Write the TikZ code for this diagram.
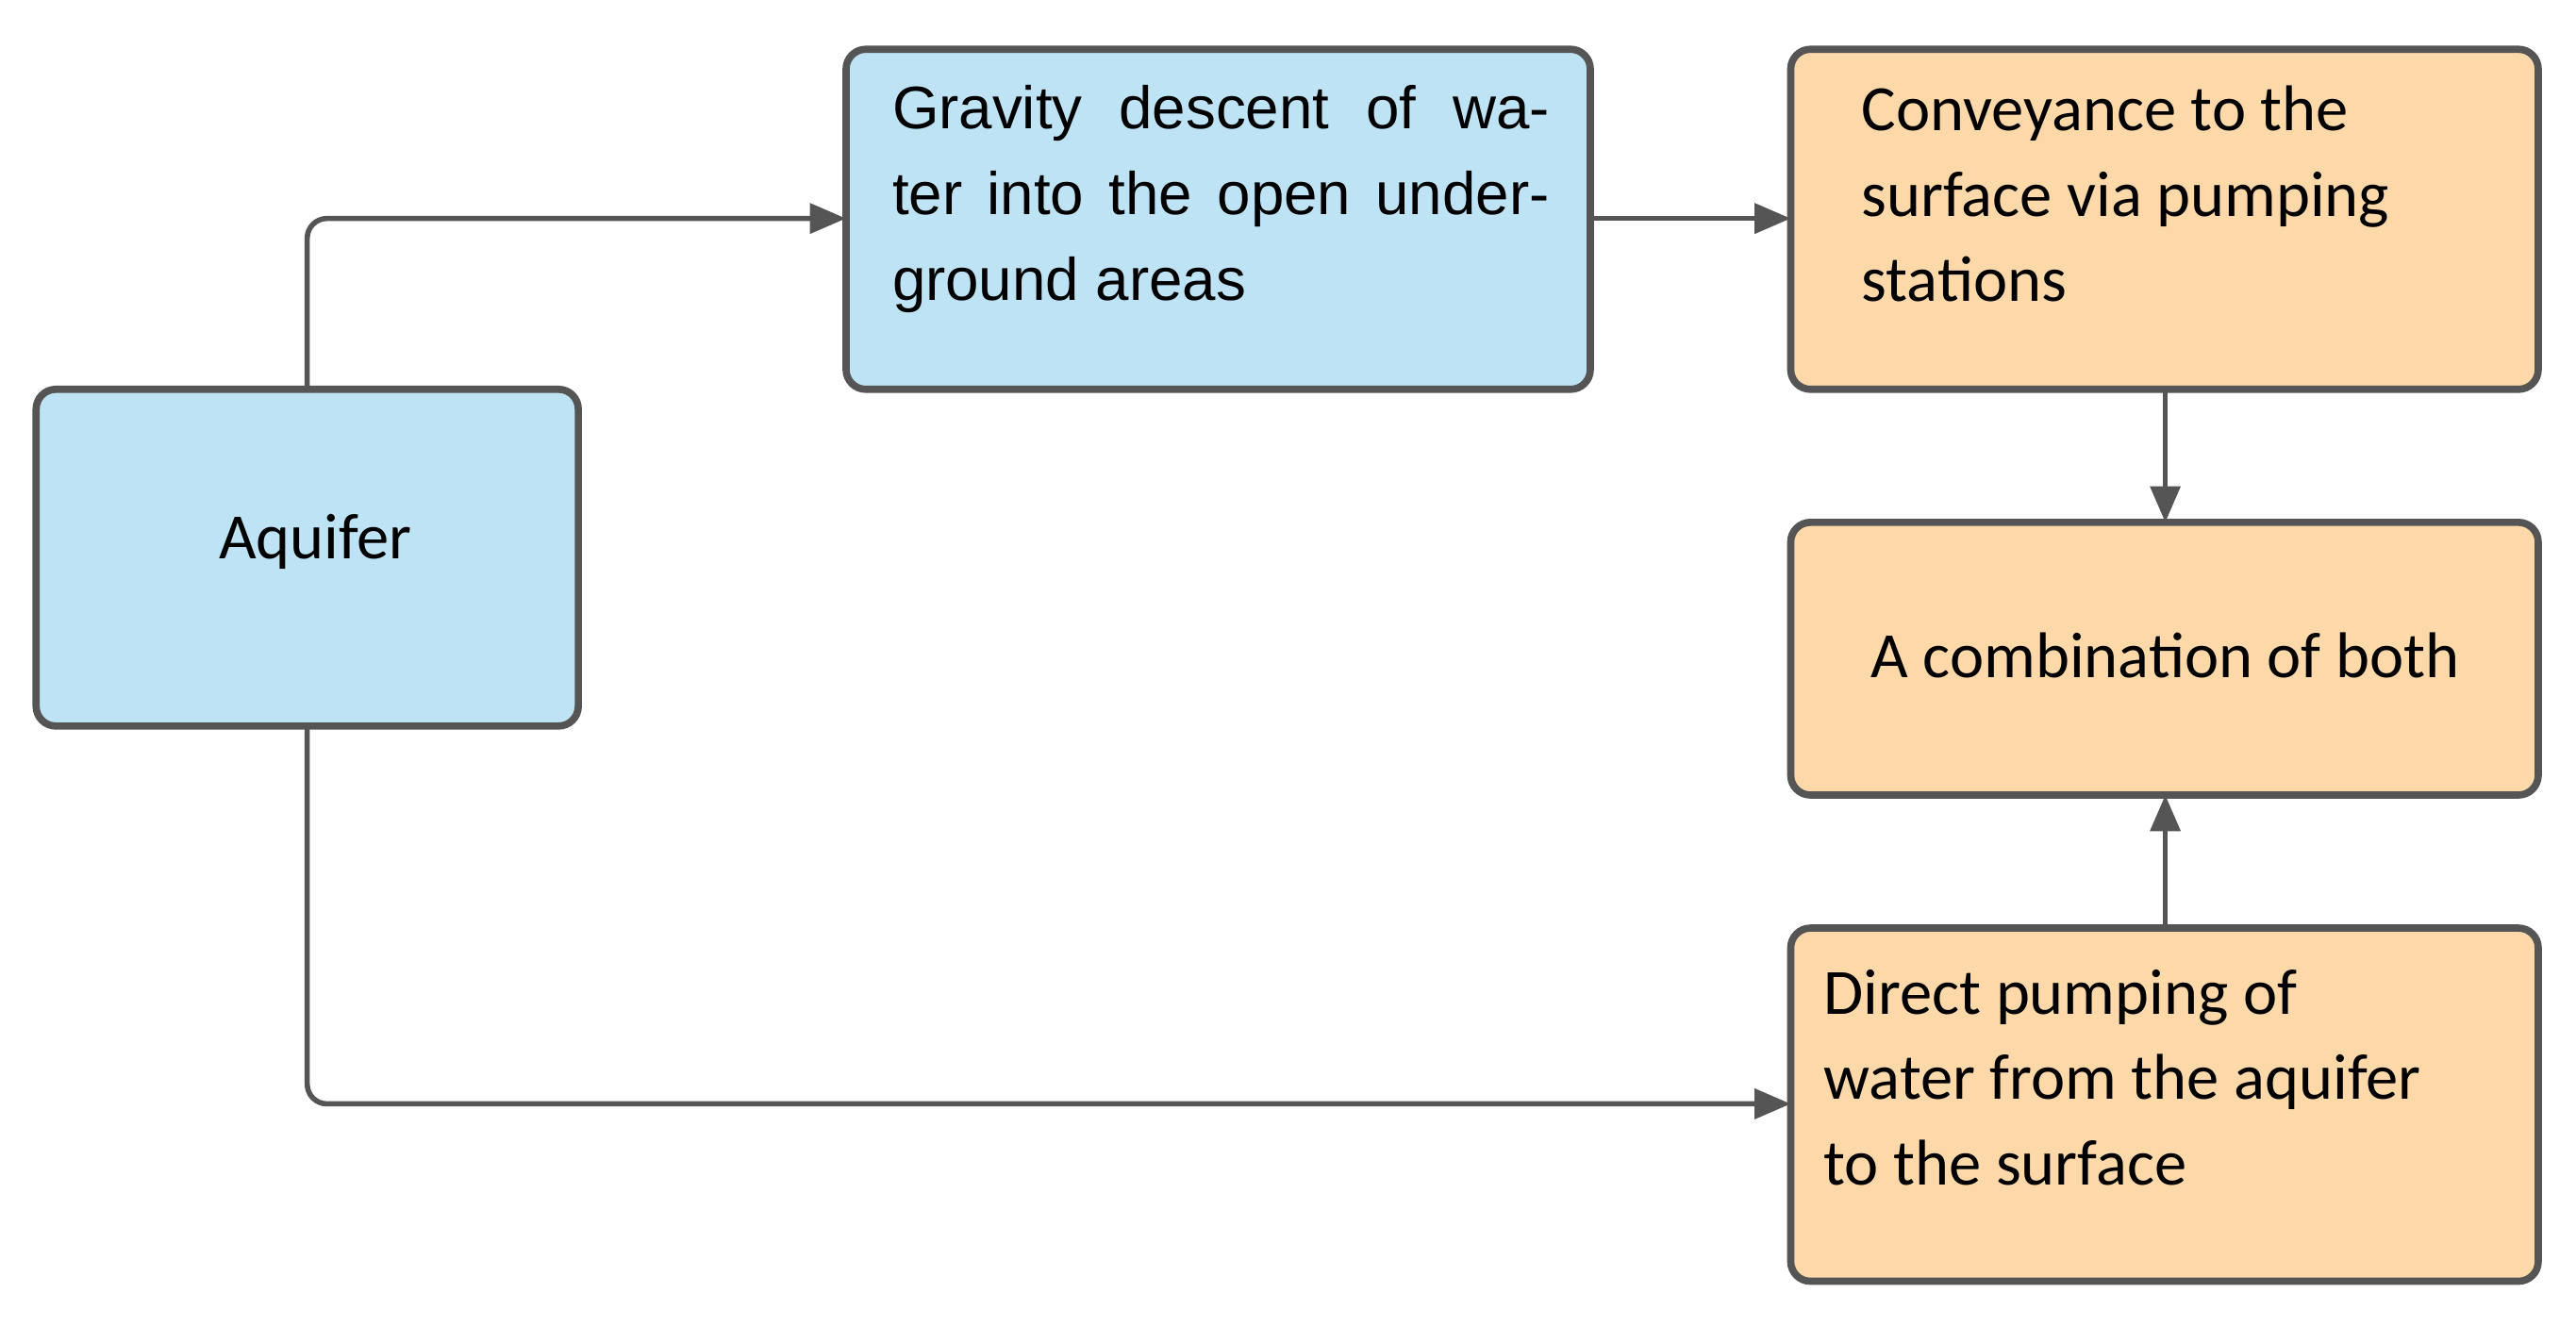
\documentclass[tikz,border=0pt]{standalone}
\usepackage{fontspec}
\setmainfont{Carlito}
\newfontfamily\arialf{Liberation Sans}
\usetikzlibrary{arrows.meta}
\definecolor{bl}{HTML}{BEE3F4}
\definecolor{orf}{HTML}{FDD9A9}
\definecolor{ln}{HTML}{555555}
\begin{document}
\begin{tikzpicture}[x=0.5mm,y=-0.5mm,
 box/.style={draw=ln,line width=2.2mm,rounded corners=6mm},
 arr/.style={draw=ln,line width=1.6mm,-{Triangle[length=11mm,width=9mm]},rounded corners=6mm},
 txt/.style={font=\fontsize{56}{74}\selectfont,inner sep=0,align=left,anchor=north west}]
\useasboundingbox (0,0) rectangle (1568,807);
\draw[box,fill=bl] (22,237) rectangle (352,442);
\draw[box,fill=bl] (515,30) rectangle (968,237);
\draw[box,fill=orf] (1090,30) rectangle (1545,237);
\draw[box,fill=orf] (1090,318) rectangle (1545,484);
\draw[box,fill=orf] (1090,565) rectangle (1545,780);
\node[txt,anchor=center] (aq) at (192,330) {Aquifer};
\node[txt,text width=200mm,align=justify,font=\arialf\fontsize{52}{74}\selectfont] (gr) at (543,52) {Gravity descent of water into the open underground areas};
\node[txt] (cv) at (1133,52) {Conveyance to the\\surface via pumping\\stations};
\node[txt,anchor=center] (cb) at (1318,399) {A combination of both};
\node[txt] (dp) at (1110,590) {Direct pumping of\\water from the aquifer\\to the surface};
\coordinate (aqt) at (187,237); \coordinate (aqb) at (187,442);
\coordinate (grl) at (515,133); \coordinate (grr) at (968,133);
\coordinate (cvl) at (1090,133); \coordinate (cvb) at (1318,237);
\coordinate (cbt) at (1318,318); \coordinate (cbb) at (1318,484);
\coordinate (dpt) at (1318,565); \coordinate (dpl) at (1090,672);
\draw[arr] (aqt) |- (grl);
\draw[arr] (grr) -- (cvl);
\draw[arr] (cvb) -- (cbt);
\draw[arr] (dpt) -- (cbb);
\draw[arr] (aqb) |- (dpl);
\end{tikzpicture}
\end{document}
